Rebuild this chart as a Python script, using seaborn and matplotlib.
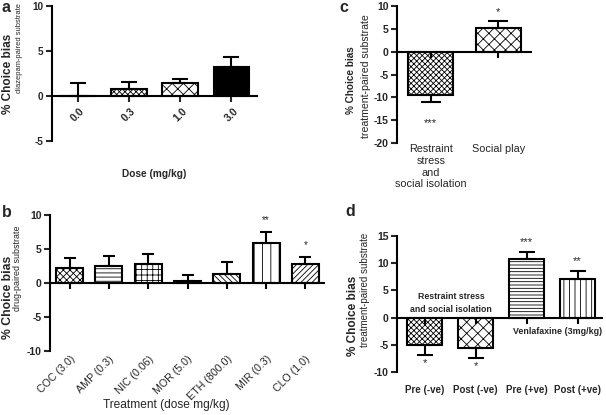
import matplotlib
matplotlib.use("Agg")
import matplotlib.pyplot as plt
import seaborn as sns
import pandas as pd
import numpy as np

sns.set_style("white")
plt.rcParams['font.family'] = ['Liberation Sans', 'DejaVu Sans']
plt.rcParams['hatch.linewidth'] = 0.6

# ---------------- data ----------------
a_doses = ["0.0", "0.3", "1.0", "3.0"]
a_means = [0.0, 0.8, 1.45, 3.2]
a_tops = [1.5, 1.55, 1.9, 4.3]

b_treat = ["COC (3.0)", "AMP (0.3)", "NIC (0.06)", "MOR (5.0)", "ETH (800.0)", "MIR (0.3)", "CLO (1.0)"]
b_means = [2.2, 2.5, 2.8, 0.3, 1.3, 5.9, 2.8]
b_tops = [3.7, 4.0, 4.2, 1.2, 3.1, 7.5, 3.8]
b_stars = ["", "", "", "", "", "**", "*"]

c_groups = ["Restraint\nstress\nand\nsocial isolation", "Social play"]
c_means = [-9.4, 5.2]
c_tops = [-11.1, 6.7]
c_stars = ["***", "*"]

d_groups = ["Pre (-ve)", "Post (-ve)", "Pre (+ve)", "Post (+ve)"]
d_means = [-4.95, -5.55, 10.8, 7.15]
d_tops = [-6.8, -7.4, 12.0, 8.5]
d_stars = ["*", "*", "***", "**"]

W, H = 606, 415
fig = plt.figure(figsize=(W / 100, H / 100), dpi=100)


def fx(px):
    return px / W


def fy(py):
    return 1 - py / H


def make_ax(left, right, top, bottom):
    return fig.add_axes([fx(left), fy(bottom), fx(right - left), (bottom - top) / H])


def bars(ax, cats, means, tops, hatches, faces, width, capsize, lw=1.5):
    df = pd.DataFrame({"cat": cats, "val": means})
    sns.barplot(data=df, x="cat", y="val", order=cats, color="white",
                edgecolor="black", linewidth=lw, width=width, errorbar=None, ax=ax)
    for p, h, f in zip(ax.patches, hatches, faces):
        p.set_hatch(h)
        p.set_facecolor(f)
    pos = np.arange(len(cats))
    means_a = np.array(means)
    tops_a = np.array(tops)
    up = np.where(tops_a >= means_a, tops_a - means_a, 0)
    dn = np.where(tops_a < means_a, means_a - tops_a, 0)
    ax.errorbar(pos, means_a, yerr=[dn, up], fmt="none", ecolor="black",
                elinewidth=1.5, capsize=capsize, capthick=1.5, zorder=1)
    return pos


def style_y(ax, ylim, yticks, fs=7.5):
    ax.set_ylim(*ylim)
    ax.set_yticks(yticks)
    ax.set_yticklabels([str(t) for t in yticks], fontsize=fs, fontweight="bold")
    for s in ["top", "right"]:
        ax.spines[s].set_visible(False)
    ax.spines["left"].set_linewidth(1.5)
    ax.spines["left"].set_color("black")
    ax.tick_params(axis="y", direction="out", length=4, width=1.5, pad=2, left=True)
    ax.set_xlabel("")
    ax.set_ylabel("")
    ax.set_facecolor("none")


def zero_line(ax, pos):
    ax.spines["bottom"].set_visible(False)
    ax.axhline(0, color="black", lw=1.5, zorder=3)
    ax.plot(pos, np.zeros(len(pos)), ls="none", marker=3, ms=4, mew=1.5,
            color="black", zorder=3)


def ylab(x1, y1, fs1, x2, y2, second, fs2):
    fig.text(fx(x1), fy(y1), "% Choice bias", rotation=90, ha="center", va="center",
             fontsize=fs1, fontweight="bold")
    fig.text(fx(x2), fy(y2), second, rotation=90, ha="center", va="center", fontsize=fs2)


# ---------------- panel a ----------------
axa = make_ax(52, 257, 6.3, 141)
pa = bars(axa, a_doses, a_means, a_tops, ["", "xxxxxx", "xxx", ""],
          ["white", "white", "white", "black"], 0.69, 6)
style_y(axa, (-5, 10), [-5, 0, 5, 10], fs=7.2)
axa.set_xlim(-0.5, 3.5)
axa.spines["bottom"].set_position(("data", 0))
axa.spines["bottom"].set_linewidth(1.5)
axa.spines["bottom"].set_color("black")
axa.tick_params(axis="x", direction="out", length=4, width=1.5, bottom=True, pad=3)
axa.set_xticks(pa)
axa.set_xticklabels(a_doses, rotation=45, ha="center", fontsize=7.5, fontweight="bold")
fig.text(fx(154), fy(174), "Dose (mg/kg)", ha="center", va="center", fontsize=7.3, fontweight="bold")
ylab(8, 74, 8.5, 20, 48, "diazepam-paired substrate", 5.4)
fig.text(fx(2), fy(7), "a", ha="left", va="center", fontsize=11.5, fontweight="bold")

# ---------------- panel b ----------------
axb = make_ax(50, 325, 215, 351)
pb = bars(axb, b_treat, b_means, b_tops,
          ["xxxxx", "----", "+++", "xxxxx", "\\\\\\\\\\\\", "||", "//////"],
          ["white"] * 7, 0.69, 4)
style_y(axb, (-10, 10), [-10, -5, 0, 5, 10], fs=7.5)
axb.set_xlim(-0.5, 6.5)
zero_line(axb, pb)
axb.tick_params(axis="x", length=0, pad=2)
axb.set_xticks(pb)
axb.set_xticklabels(b_treat, rotation=45, ha="right", rotation_mode="anchor", fontsize=7.7)
for x, t, s in zip(pb, b_tops, b_stars):
    if s:
        axb.text(x, t + 1.0, s, ha="center", va="bottom", fontsize=7)
fig.text(fx(166), fy(405), "Treatment (dose mg/kg)", ha="center", va="center", fontsize=8.6)
ylab(8, 297, 8.8, 18, 268, "drug-paired substrate", 6.4)
fig.text(fx(2), fy(212), "b", ha="left", va="center", fontsize=11.5, fontweight="bold")

# ---------------- panel c ----------------
axc = make_ax(397, 532, 6.3, 143)
pc = bars(axc, c_groups, c_means, c_tops, ["xxxxxx", "xxx"], ["white", "white"], 0.67, 7)
style_y(axc, (-20, 10), [-20, -15, -10, -5, 0, 5, 10], fs=7.5)
axc.set_xlim(-0.5, 1.5)
zero_line(axc, pc)
axc.tick_params(axis="x", length=0, pad=1)
axc.set_xticks(pc)
axc.set_xticklabels(c_groups, fontsize=7.8, linespacing=1.2)
for x, t, s in zip(pc, c_tops, c_stars):
    if s:
        if t < 0:
            axc.text(x, t - 3.5, s, ha="center", va="top", fontsize=8)
        else:
            axc.text(x, t + 1.0, s, ha="center", va="bottom", fontsize=8)
ylab(351, 80, 7.2, 366, 76, "treatment-paired substrate", 7.6)
fig.text(fx(339), fy(7), "c", ha="left", va="center", fontsize=11.5, fontweight="bold")

# ---------------- panel d ----------------
axd = make_ax(397, 603, 236, 372)
pdd = bars(axd, d_groups, d_means, d_tops, ["xxxxxx", "xxx", "-----", "|||"],
           ["white"] * 4, 0.68, 6)
style_y(axd, (-10, 15), [-10, -5, 0, 5, 10, 15], fs=7.5)
axd.set_xlim(-0.54, 3.5)
zero_line(axd, pdd)
axd.tick_params(axis="x", length=0, pad=9)
axd.set_xticks(pdd)
axd.set_xticklabels(d_groups, fontsize=7.0, fontweight="bold")
for x, t, s in zip(pdd, d_tops, d_stars):
    if t < 0:
        axd.text(x, t - 0.6, s, ha="center", va="top", fontsize=8)
    else:
        axd.text(x, t + 1.0, s, ha="center", va="bottom", fontsize=8)
axd.text(0.52, 2.7, "Restraint stress\nand social isolation", ha="center", va="center",
         fontsize=6.3, fontweight="bold", linespacing=1.5)
axd.text(2.6, -2.6, "Venlafaxine (3mg/kg)", ha="center", va="center",
         fontsize=6.4, fontweight="bold")
ylab(353, 316, 8.5, 365, 290, "treatment-paired substrate", 7.0)
fig.text(fx(345), fy(211), "d", ha="left", va="center", fontsize=11.5, fontweight="bold")

fig.savefig("out.png", dpi=100)
